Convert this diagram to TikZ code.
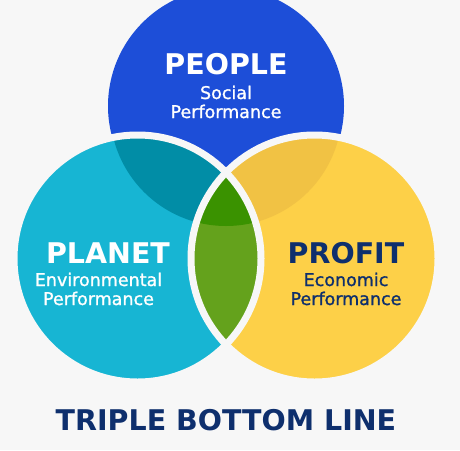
\documentclass[tikz,border=0pt]{standalone}
\usepackage{fontspec}
\setmainfont{DejaVu Sans}
\newfontfamily\mediumfont[FakeBold=1.2]{DejaVu Sans}
\usepackage{xcolor}
\definecolor{canvas}{HTML}{F7F7F7}
\definecolor{peopleblue}{HTML}{1D4ED8}
\definecolor{planetcyan}{HTML}{17B5D3}
\definecolor{planetdark}{HTML}{018DA6}
\definecolor{profityellow}{HTML}{FDD048}
\definecolor{profitgold}{HTML}{F1C244}
\definecolor{lensgreen}{HTML}{64A21C}
\definecolor{lensdark}{HTML}{3A9200}
\definecolor{navy}{HTML}{0E2F6D}

\begin{document}
\begin{tikzpicture}[x=1pt, y=-1pt,
        title/.style={anchor=base, inner sep=0pt,
          font=\fontsize{28.5}{28.5}\selectfont\bfseries},
        subtitle/.style={anchor=base, inner sep=0pt, align=center,
          font=\mediumfont\fontsize{17.5}{19}\selectfont},
        rim/.style={draw=canvas, line width=7pt},
      ]

      % Canvas
      \fill[canvas] (0,0) rectangle (460,450);
      \useasboundingbox (0,0) rectangle (460,450);

      % Circle centres
      \coordinate (people) at (226,106);
      \coordinate (shade) at (226,110);
      \coordinate (planet) at (137.5,258.5);
      \coordinate (profit) at (314.5,258.5);

      % People circle (bottom layer)
      \fill[peopleblue] (people) circle (118pt);

      % Planet and profit circles
      \fill[planetcyan] (planet) circle (123.5pt);
      \fill[profityellow] (profit) circle (123.5pt);

      % Overlaps with people
      \begin{scope}
        \clip (shade) circle (116pt);
        \fill[planetdark] (planet) circle (123.5pt);
        \fill[profitgold] (profit) circle (123.5pt);
      \end{scope}

      % Planet / profit lens
      \begin{scope}
        \clip (planet) circle (123.5pt);
        \fill[lensgreen] (profit) circle (123.5pt);
        \clip (shade) circle (116pt);
        \fill[lensdark] (profit) circle (123.5pt);
      \end{scope}

      % Gaps round the lower circles
      \draw[rim] (planet) circle (123.5pt);
      \draw[rim] (profit) circle (123.5pt);

      % Labels (subtitles sit on their last line)
      \node[title, text=white] (peoplelbl) at (226,74) {PEOPLE};
      \node[subtitle, text=white] (peoplesub) at (226,118)
        {Social\\Performance};

      \node[title, text=white] (planetlbl) at (108,263) {PLANET};
      \node[subtitle, text=white] (planetsub) at (98.5,305)
        {Environmental\\Performance};

      \node[title, text=navy] (profitlbl) at (346,263) {PROFIT};
      \node[subtitle, text=navy] (profitsub) at (346,305)
        {Economic\\Performance};

      % Caption
      \node[title, text=navy] (caption) at (226,430) {TRIPLE BOTTOM LINE};

      \end{tikzpicture}
\end{document}
